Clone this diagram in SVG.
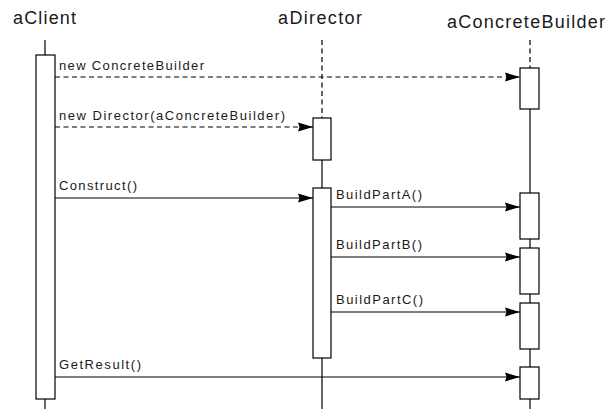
<svg xmlns="http://www.w3.org/2000/svg" width="611" height="409" viewBox="0 0 611 409">
<style>
.hdr{font-family:"Liberation Sans",Arial,sans-serif;font-size:18px;fill:#1a1a1a}
.lbl{font-family:"Liberation Sans",Arial,sans-serif;font-size:13px;fill:#1a1a1a}
.life{stroke:#000;stroke-width:1.2;fill:none}
.dash{stroke-dasharray:5,3.5}
.act{fill:#fff;stroke:#000;stroke-width:1.2}
.msg{stroke:#000;stroke-width:1.2;fill:none;marker-end:url(#ah)}
</style>
<defs>
<marker id="ah" markerUnits="userSpaceOnUse" markerWidth="16" markerHeight="12" refX="15" refY="5" orient="auto" viewBox="0 0 16 12">
<path d="M15,5 L0,0.5 L1.5,5 L0,9.5 Z" fill="#000"/>
</marker>
</defs>
<g id="aClient">
<text class="hdr" x="13" y="24" textLength="63" lengthAdjust="spacing">aClient</text>
<line class="life" x1="45" y1="40" x2="45" y2="55"/>
<rect class="act" x="36" y="55" width="19" height="344"/>
<line class="life" x1="45" y1="399" x2="45" y2="409"/>
</g>
<g id="aDirector">
<text class="hdr" x="278" y="24" textLength="84" lengthAdjust="spacing">aDirector</text>
<line class="life dash" x1="322" y1="40" x2="322" y2="118"/>
<rect class="act" x="313" y="118" width="18" height="42"/>
<line class="life" x1="322" y1="160" x2="322" y2="188"/>
<rect class="act" x="313" y="188" width="18" height="170"/>
<line class="life" x1="322" y1="358" x2="322" y2="409"/>
</g>
<g id="aConcreteBuilder">
<text class="hdr" x="447" y="28" textLength="158" lengthAdjust="spacing">aConcreteBuilder</text>
<line class="life dash" x1="530" y1="40" x2="530" y2="68"/>
<rect class="act" x="520" y="68" width="19" height="41"/>
<line class="life" x1="530" y1="109" x2="530" y2="193"/>
<rect class="act" x="520" y="193" width="19" height="46"/>
<line class="life" x1="530" y1="239" x2="530" y2="248"/>
<rect class="act" x="520" y="248" width="19" height="46"/>
<line class="life" x1="530" y1="294" x2="530" y2="303"/>
<rect class="act" x="520" y="303" width="19" height="46"/>
<line class="life" x1="530" y1="349" x2="530" y2="367"/>
<rect class="act" x="520" y="367" width="19" height="32"/>
<line class="life" x1="530" y1="399" x2="530" y2="409"/>
</g>
<g id="connectors">
<line class="msg dash" x1="55" y1="77" x2="520" y2="77"/>
<text class="lbl" x="59" y="70" textLength="145" lengthAdjust="spacing">new ConcreteBuilder</text>
<line class="msg dash" x1="55" y1="127" x2="313" y2="127"/>
<text class="lbl" x="59" y="120" textLength="226" lengthAdjust="spacing">new Director(aConcreteBuilder)</text>
<line class="msg" x1="55" y1="198" x2="313" y2="198"/>
<text class="lbl" x="59" y="190" textLength="78" lengthAdjust="spacing">Construct()</text>
<line class="msg" x1="331" y1="207" x2="520" y2="207"/>
<text class="lbl" x="336" y="199" textLength="86" lengthAdjust="spacing">BuildPartA()</text>
<line class="msg" x1="331" y1="257" x2="520" y2="257"/>
<text class="lbl" x="336" y="249" textLength="86" lengthAdjust="spacing">BuildPartB()</text>
<line class="msg" x1="331" y1="312" x2="520" y2="312"/>
<text class="lbl" x="336" y="304" textLength="87" lengthAdjust="spacing">BuildPartC()</text>
<line class="msg" x1="55" y1="377" x2="520" y2="377"/>
<text class="lbl" x="59" y="369" textLength="82" lengthAdjust="spacing">GetResult()</text>
</g>
</svg>
